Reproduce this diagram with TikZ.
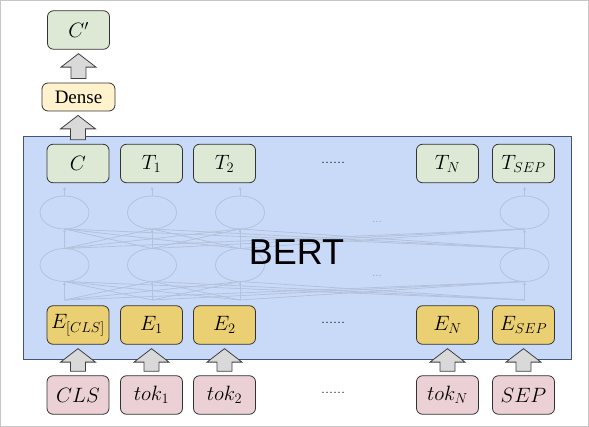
\documentclass[tikz,border=0pt]{standalone}
\usepackage{fontspec}
\newfontfamily\bertfont{Liberation Sans}
\newfontfamily\densefont{Liberation Serif}
\usetikzlibrary{calc,arrows.meta}
\definecolor{bertbg}{HTML}{C9DAF8}
\definecolor{bertbd}{HTML}{44557A}
\definecolor{greenc}{HTML}{DDE9D5}
\definecolor{yellowc}{HTML}{EACF73}
\definecolor{pinkc}{HTML}{EBD1D6}
\definecolor{densec}{HTML}{FFF2CC}
\definecolor{netc}{HTML}{B3C1DB}
\definecolor{arrowc}{HTML}{D9D9D9}
\newcommand\blockarrow[2]{%
  \draw[blk] let \p1=(#1.north), \p2=(#2.south) in
    (\x1-7.5pt,\y1+4pt) -- (\x1+7.5pt,\y1+4pt) -- (\x1+7.5pt,\y2-17.5pt)
    -- (\x1+17.5pt,\y2-17.5pt) -- (\x1,\y2-4pt) -- (\x1-17.5pt,\y2-17.5pt)
    -- (\x1-7.5pt,\y2-17.5pt) -- cycle;}
\begin{document}
\begin{tikzpicture}[x=1pt,y=-1pt,
  box/.style={draw=black!80, line width=0.8pt, rounded corners=6pt,
    minimum width=62pt, minimum height=38.5pt, inner sep=0pt,
    font=\fontsize{20.74}{22}\selectfont},
  outbox/.style={box, fill=greenc},
  embbox/.style={box, fill=yellowc},
  tokbox/.style={box, fill=pinkc},
  blk/.style={draw=black!75, line width=0.8pt, fill=arrowc, line join=miter},
  net/.style={draw=netc, line width=0.8pt},
  netarrow/.style={net, -{Stealth[length=3pt,width=3pt]}},
  dotsnode/.style={inner sep=0pt, font=\fontsize{16}{16}\selectfont},
  faintdots/.style={inner sep=0pt, text=netc!80!black, font=\fontsize{12}{12}\selectfont}]
\useasboundingbox (0,0) rectangle (589,427);
\draw[draw=gray!45, line width=1pt] (0.5,0.5) rectangle (588.5,426.5);

% BERT block
\node[draw=bertbd, fill=bertbg, line width=0.9pt, minimum width=548pt,
  minimum height=223pt, inner sep=0pt] (bert) at (297,247.5) {};

% faint background network
\foreach \a in {64.5,152,240,524.5} {
  \draw[net] (\a,212.5) ellipse [x radius=24.5, y radius=16.5];
  \draw[net] (\a,265) ellipse [x radius=24.5, y radius=16.5];
  \draw[netarrow] (\a,196) -- (\a,187);
  \draw[netarrow] (\a,248.5) -- (\a,229.5);
  \draw[netarrow] (\a,300) -- (\a,282);
  \foreach \b in {64.5,152,240,524.5} {
    \draw[net] (\a,248.5) -- (\b,229);
    \draw[net] (\a,300) -- (\b,281.5);
  }
}
\node[faintdots] (fd1) at (377,222) {...};
\node[faintdots] (fd2) at (377,276) {...};

\node[inner sep=0pt, font=\bertfont\fontsize{36}{36}\selectfont] (bertlabel) at (296.5,252.5) {BERT};

% output row
\node[outbox] (c) at (78,163.5) {$C$};
\node[outbox] (t1) at (151.5,163.5) {$T_1$};
\node[outbox] (t2) at (224.5,163.5) {$T_2$};
\node[dotsnode] (dotsT) at (333,163) {......};
\node[outbox] (tn) at (447.5,163.5) {$T_N$};
\node[outbox] (tsep) at (523.5,163.5) {$T_{SEP}$};

% embedding row
\node[embbox] (ecls) at (78,325) {$E_{[CLS]}$};
\node[embbox] (e1) at (151.5,325) {$E_1$};
\node[embbox] (e2) at (224.5,325) {$E_2$};
\node[dotsnode] (dotsE) at (333,323) {......};
\node[embbox] (en) at (447.5,325) {$E_N$};
\node[embbox] (esep) at (523.5,325) {$E_{SEP}$};

% token row
\node[tokbox] (cls) at (78,395) {$CLS$};
\node[tokbox] (tok1) at (151.5,395) {$tok_1$};
\node[tokbox] (tok2) at (224.5,395) {$tok_2$};
\node[dotsnode] (dotsK) at (333,393) {......};
\node[tokbox] (tokn) at (447.5,395) {$tok_N$};
\node[tokbox] (sep) at (523.5,395) {$SEP$};

% head
\node[box, fill=densec, minimum width=73pt, minimum height=28pt,
  font=\densefont\fontsize{19}{20}\selectfont] (dense) at (78.5,97) {Dense};
\node[outbox] (cprime) at (78.5,30) {$C'$};

% block arrows
\blockarrow{dense}{cprime}
\blockarrow{c}{dense}
\blockarrow{cls}{ecls}
\blockarrow{tok1}{e1}
\blockarrow{tok2}{e2}
\blockarrow{tokn}{en}
\blockarrow{sep}{esep}
\end{tikzpicture}
\end{document}
